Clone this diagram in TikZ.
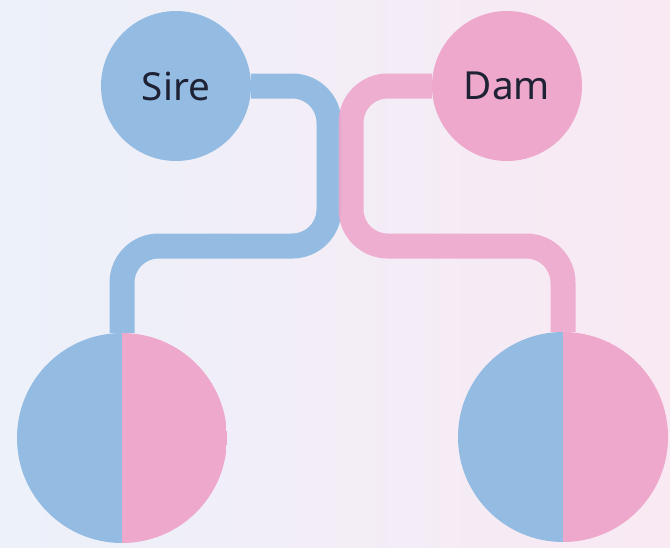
\documentclass[tikz,border=0pt]{standalone}
\usepackage{fontspec}
\setmainfont{Noto Sans}
\definecolor{sirecol}{RGB}{148,188,227}
\definecolor{damcol}{RGB}{237,168,204}
\definecolor{namecol}{RGB}{30,34,52}
\definecolor{bgleft}{RGB}{236,241,250}
\definecolor{bgright}{RGB}{249,233,243}
\begin{document}
\begin{tikzpicture}[x=0.03cm,y=-0.03cm,every node/.style={shape=circle,inner sep=0pt,align=center},
    parent/.style={minimum size=4.5cm,font=\fontsize{33}{40}\selectfont,text=namecol},
    foal/.style={minimum size=6.3cm,path picture={
        \fill[sirecol] (path picture bounding box.south west) rectangle (path picture bounding box.north);
        \fill[damcol] (path picture bounding box.south) rectangle (path picture bounding box.north east);}},
    link/.style={line width=0.75cm,rounded corners=1.1cm}]
    \useasboundingbox (0,0) rectangle (670,547);
    \shade[left color=bgleft,right color=bgright] (0,0) rectangle (670,547);
    % parents
    \node[parent,fill=sirecol] (sire) at (176,86) {Sire};
    \node[parent,fill=damcol] (dam) at (507,86) {Dam};
    % offspring
    \node[foal] (foalL) at (122,438) {};
    \node[foal] (foalR) at (563,437) {};
    % lines from the parents
    \draw[link,sirecol] (sire.east) -- (329,86) -- (329,246) -| (foalL.north);
    \draw[link,damcol,opacity=0.9] (dam.west) -- (351,86) -- (351,246) -| (foalR.north);
\end{tikzpicture}
\end{document}
